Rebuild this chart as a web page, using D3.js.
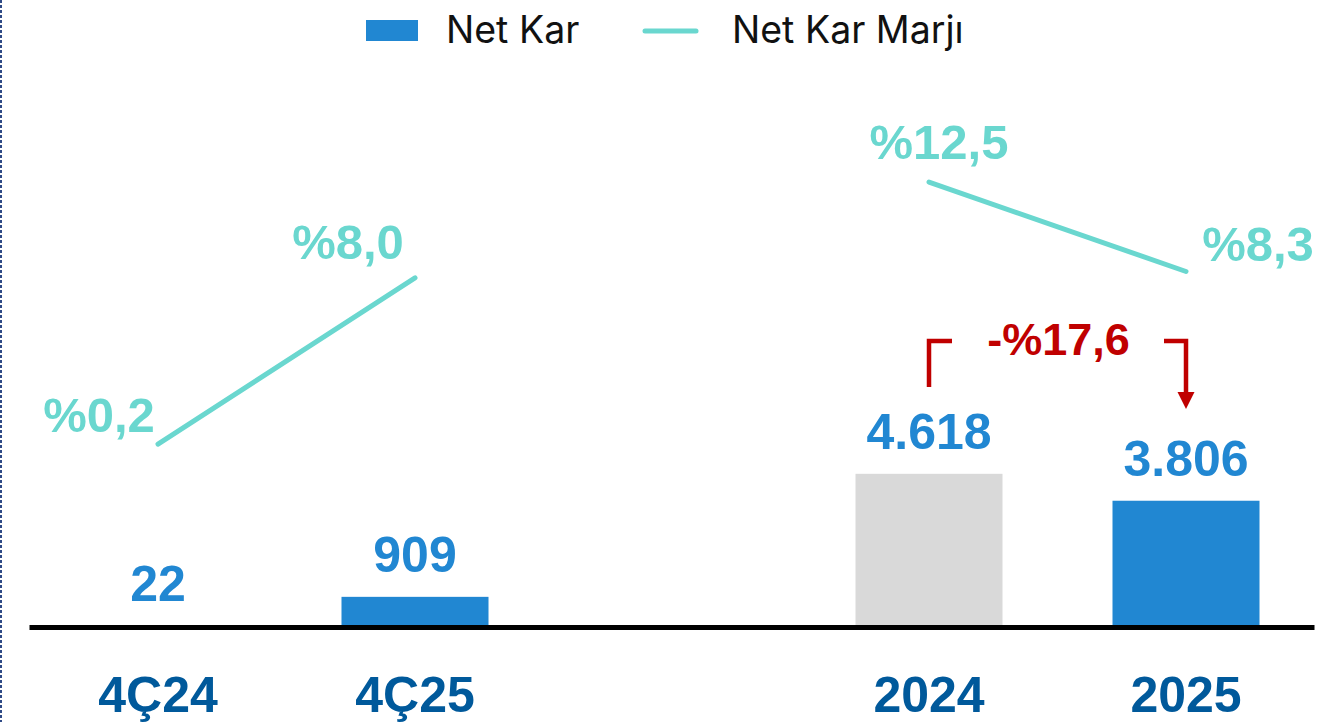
<!DOCTYPE html>
<html>
<head>
<meta charset="utf-8">
<script src="https://cdn.jsdelivr.net/npm/d3@7"></script>
<style>
  html, body { margin: 0; padding: 0; background: #fff; }
  svg { display: block; }
</style>
</head>
<body>
<div id="chart"></div>
<script>
// data
var categories = ["4Ç24", "4Ç25", "2024", "2025"];
var netKar = [22, 909, 4618, 3806];
var netKarLabels = ["22", "909", "4.618", "3.806"];
var netKarMarji = [0.2, 8.0, 12.5, 8.3];
var marjiLabels = ["%0,2", "%8,0", "%12,5", "%8,3"];
var lineGroups = [["4Ç24", "4Ç25"], ["2024", "2025"]];
var changeLabel = "-%17,6";

var width = 1320, height = 722;
var barBlue = "#2187d2", barGrey = "#d9d9d9", teal = "#6ad7cf",
    catBlue = "#00599b", red = "#c00000";

var svg = d3.select("#chart").append("svg")
    .attr("width", width)
    .attr("height", height);

// dotted border on the left edge
svg.append("line")
    .attr("x1", 1).attr("x2", 1)
    .attr("y1", 0).attr("y2", height)
    .attr("stroke", "#2f4a86")
    .attr("stroke-width", 2)
    .attr("stroke-dasharray", "3,2");

// an empty slot keeps the quarter pair apart from the year pair
var slots = ["4Ç24", "4Ç25", "gap", "2024", "2025"];
var x = d3.scaleBand().domain(slots)
    .range([29.5, 1314.5])
    .paddingInner(0.428)
    .paddingOuter(0.214);
var yBar = d3.scaleLinear().domain([0, 18900]).range([627, 0]);
var yPct = d3.scaleLinear().domain([0, 21]).range([448.3, 1]);

var rows = categories.map(function (c, i) {
    return { cat: c, value: netKar[i], label: netKarLabels[i],
             pct: netKarMarji[i], pctLabel: marjiLabels[i] };
});

// bars
svg.selectAll("rect.bar")
    .data(rows)
    .enter().append("rect")
    .attr("class", "bar")
    .attr("x", function (d) { return x(d.cat); })
    .attr("width", x.bandwidth())
    .attr("y", function (d) { return yBar(d.value); })
    .attr("height", function (d) { return yBar(0) - yBar(d.value); })
    .attr("fill", function (d) { return d.cat === "2024" ? barGrey : barBlue; });

// baseline (drawn over the bar feet)
svg.append("line")
    .attr("x1", x.range()[0]).attr("x2", x.range()[1])
    .attr("y1", yBar(0) + 0.5).attr("y2", yBar(0) + 0.5)
    .attr("stroke", "#000")
    .attr("stroke-width", 5);

// bar value labels
svg.selectAll("text.val")
    .data(rows)
    .enter().append("text")
    .attr("class", "val")
    .attr("x", function (d) { return x(d.cat) + x.bandwidth() / 2; })
    .attr("y", function (d) { return yBar(d.value) - 25; })
    .attr("text-anchor", "middle")
    .style("font-family", "'Liberation Sans', Arial, sans-serif")
    .style("font-weight", "bold")
    .style("font-size", "50px")
    .attr("fill", barBlue)
    .text(function (d) { return d.label; });

// category labels
svg.selectAll("text.cat")
    .data(rows)
    .enter().append("text")
    .attr("class", "cat")
    .attr("x", function (d) { return x(d.cat) + x.bandwidth() / 2; })
    .attr("y", 712)
    .attr("text-anchor", "middle")
    .style("font-family", "'Liberation Sans', Arial, sans-serif")
    .style("font-weight", "bold")
    .style("font-size", "50px")
    .attr("fill", catBlue)
    .text(function (d) { return d.cat; });

// margin lines, one per pair
var line = d3.line()
    .x(function (d) { return x(d.cat) + x.bandwidth() / 2; })
    .y(function (d) { return yPct(d.pct); });

lineGroups.forEach(function (g) {
    var pts = rows.filter(function (d) { return g.indexOf(d.cat) > -1; });
    svg.append("path")
        .attr("d", line(pts))
        .attr("fill", "none")
        .attr("stroke", teal)
        .attr("stroke-width", 5)
        .attr("stroke-linecap", "round");
});

// margin labels sit by hand around the line ends
var pctOffsets = [[-59, -12], [-67, -19], [10, -23], [72, -11]];
svg.selectAll("text.pct")
    .data(rows)
    .enter().append("text")
    .attr("class", "pct")
    .attr("x", function (d, i) { return x(d.cat) + x.bandwidth() / 2 + pctOffsets[i][0]; })
    .attr("y", function (d, i) { return yPct(d.pct) + pctOffsets[i][1]; })
    .attr("text-anchor", "middle")
    .style("font-family", "'Liberation Sans', Arial, sans-serif")
    .style("font-weight", "bold")
    .style("font-size", "49px")
    .attr("fill", teal)
    .text(function (d) { return d.pctLabel; });

// change bracket between 2024 and 2025
var xa = x("2024") + x.bandwidth() / 2;
var xb = x("2025") + x.bandwidth() / 2;
var bracket = svg.append("g").attr("fill", "none").attr("stroke", red).attr("stroke-width", 4.5);
bracket.append("path").attr("d", "M" + xa + ",387V341H" + (xa + 23));
bracket.append("path").attr("d", "M" + (xb - 22) + ",341H" + xb + "V393");
svg.append("path")
    .attr("d", "M" + (xb - 8.5) + ",392L" + (xb + 8.5) + ",392L" + xb + ",409Z")
    .attr("fill", red);
svg.append("text")
    .attr("x", (xa + xb) / 2 + 1)
    .attr("y", 355)
    .attr("text-anchor", "middle")
    .style("font-family", "'Liberation Sans', Arial, sans-serif")
    .style("font-weight", "bold")
    .style("font-size", "45px")
    .attr("fill", red)
    .text(changeLabel);

// legend
var legend = svg.append("g")
    .style("font-family", "Inter, 'Open Sans', sans-serif")
    .style("font-size", "37.5px");
legend.append("rect")
    .attr("x", 366).attr("y", 20)
    .attr("width", 52).attr("height", 21)
    .attr("fill", barBlue);
legend.append("text").attr("x", 446).attr("y", 43).attr("fill", "#111").text("Net Kar");
legend.append("line")
    .attr("x1", 645).attr("x2", 696)
    .attr("y1", 31).attr("y2", 31)
    .attr("stroke", teal)
    .attr("stroke-width", 5)
    .attr("stroke-linecap", "round");
legend.append("text").attr("x", 732).attr("y", 43).attr("fill", "#111").text("Net Kar Marjı");
</script>
</body>
</html>
